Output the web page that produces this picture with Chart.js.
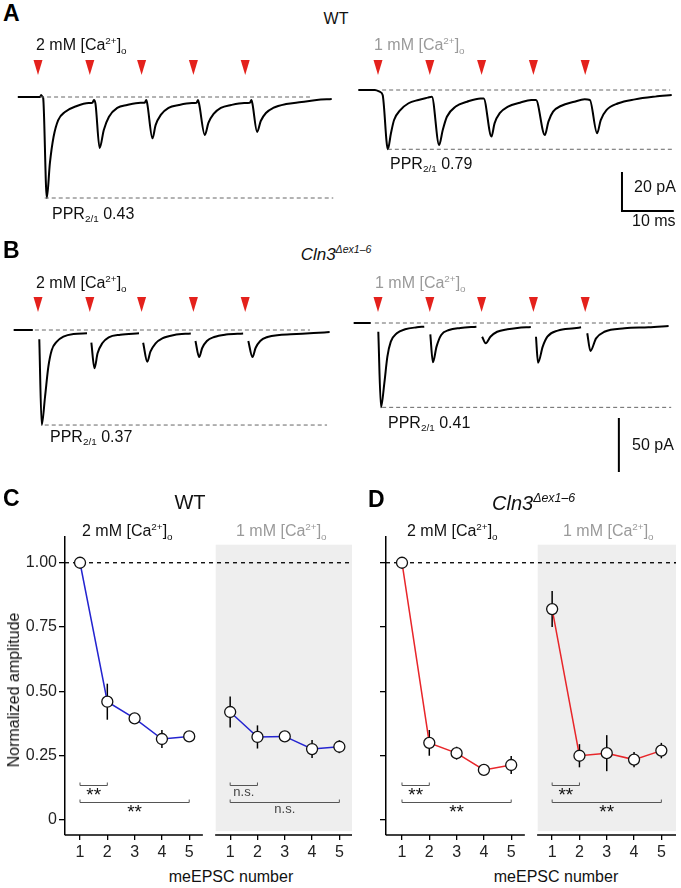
<!DOCTYPE html>
<html>
<head>
<meta charset="utf-8">
<script src="https://cdn.jsdelivr.net/npm/chart.js@4.4.1/dist/chart.umd.min.js"></script>
<style>
  body { margin: 0; background: #fff; font-family: "Liberation Sans", Arial, sans-serif; }
  #fig { position: relative; width: 681px; height: 888px; overflow: hidden; }
  canvas { position: absolute; }
  .t { position: absolute; white-space: nowrap; line-height: 1; color: #111; font-size: 16px; }
  .g { color: #9a9a9a; }
  .L { font-weight: bold; font-size: 23px; color: #000; }
  .sup { font-size: 62%; vertical-align: 0.62em; }
  .sub { font-size: 62%; vertical-align: -0.35em; }
  .it { font-style: italic; }
</style>
</head>
<body>
<div id="fig">
  <canvas id="cA1" width="340" height="165" style="left:0;top:50px"></canvas>
  <canvas id="cA2" width="341" height="165" style="left:340px;top:50px"></canvas>
  <canvas id="cB1" width="340" height="150" style="left:0;top:285px"></canvas>
  <canvas id="cB2" width="341" height="195" style="left:340px;top:285px"></canvas>
  <canvas id="cC" width="352" height="340" style="left:0;top:525px"></canvas>
  <canvas id="cD" width="310" height="340" style="left:366px;top:525px"></canvas>

  <div class="t L" style="left:3px;top:2px">A</div>
  <div class="t" style="left:336px;top:11px;transform:translateX(-50%)">WT</div>
  <div class="t" style="left:36px;top:36px">2 mM [Ca<span class="sup">2+</span>]<span class="sub">o</span></div>
  <div class="t g" style="left:374px;top:36px">1 mM [Ca<span class="sup">2+</span>]<span class="sub">o</span></div>
  <div class="t" style="left:52px;top:206px">PPR<span class="sub">2/1</span> 0.43</div>
  <div class="t" style="left:390px;top:156px">PPR<span class="sub">2/1</span> 0.79</div>
  <div class="t" style="left:634px;top:179px">20 pA</div>
  <div class="t" style="left:632px;top:213px">10 ms</div>

  <div class="t L" style="left:3px;top:239px">B</div>
  <div class="t" style="left:336px;top:244px;transform:translateX(-50%);font-size:17px"><span class="it">Cln3</span><span class="sup it">Δex1–6</span></div>
  <div class="t" style="left:36px;top:274px">2 mM [Ca<span class="sup">2+</span>]<span class="sub">o</span></div>
  <div class="t g" style="left:375px;top:274px">1 mM [Ca<span class="sup">2+</span>]<span class="sub">o</span></div>
  <div class="t" style="left:50px;top:429px">PPR<span class="sub">2/1</span> 0.37</div>
  <div class="t" style="left:388px;top:415px">PPR<span class="sub">2/1</span> 0.41</div>
  <div class="t" style="left:632px;top:437px">50 pA</div>

  <div class="t L" style="left:3px;top:487px">C</div>
  <div class="t" style="left:190px;top:492px;transform:translateX(-50%);font-size:20px">WT</div>
  <div class="t" style="left:82px;top:522px">2 mM [Ca<span class="sup">2+</span>]<span class="sub">o</span></div>
  <div class="t g" style="left:236px;top:522px">1 mM [Ca<span class="sup">2+</span>]<span class="sub">o</span></div>
  <div class="t" style="left:14px;top:690px;transform:translate(-50%,-50%) rotate(-90deg)">Normalized amplitude</div>
  <div class="t" style="left:231px;top:869px;transform:translateX(-50%)">meEPSC number</div>

  <div class="t L" style="left:368px;top:488px">D</div>
  <div class="t" style="left:492px;top:492px;font-size:20px"><span class="it">Cln3</span><span class="sup it">Δex1–6</span></div>
  <div class="t" style="left:407px;top:522px">2 mM [Ca<span class="sup">2+</span>]<span class="sub">o</span></div>
  <div class="t g" style="left:563px;top:522px">1 mM [Ca<span class="sup">2+</span>]<span class="sub">o</span></div>
  <div class="t" style="left:556px;top:869px;transform:translateX(-50%)">meEPSC number</div>
</div>

<script>
// ---- traces: [time (ms), current (pA)], null = blanked artifact
var stimTimes = [0, 10, 20, 30, 40];

var traceWT2 = [[-3.9,0],[-0.6,0],[0.4,0],[0.6,1.0],[0.9,0],[1.0,-0.5],[1.7,-51.8],[2.3,-33.8],[3.0,-20.5],[3.9,-11.8],[5.2,-7.7],[7.5,-4.6],[9.8,-3.1],
  [10.5,-3.0],[10.8,-1.5],[11.1,-3.5],[11.9,-26.2],[12.7,-16.9],[13.7,-10.1],[15.3,-5.6],[17.2,-4.1],[19.8,-2.9],
  [20.6,-2.9],[20.9,-1.5],[21.1,-3.5],[22.1,-21.2],[22.7,-14.4],[23.7,-9.2],[25.2,-5.6],[27.2,-4.1],[29.7,-3.1],
  [30.6,-3.0],[30.9,-1.5],[31.1,-3.5],[32.2,-19.5],[32.9,-13.3],[33.9,-8.7],[35.3,-5.6],[37.3,-4.1],[39.8,-3.1],
  [40.9,-3.0],[41.2,-1.5],[41.4,-3.5],[42.3,-17.9],[43.0,-12.3],[44.0,-8.2],[45.4,-5.6],[47.9,-3.6],[50.9,-2.6],[53.8,-1.5],[56.7,-1.0]];

var traceWT1 = [[-3.8,0],[-0.6,0],[0.4,-1.0],[0.9,-2.6],[1.9,-30.4],[2.5,-22.2],[3.1,-15.4],[4.3,-10.3],[5.9,-6.8],[7.8,-5.1],[9.6,-3.9],
  [10.4,-3.4],[11.8,-28.2],[12.5,-20.5],[13.3,-13.7],[15.0,-8.5],[17.2,-6.0],[19.8,-4.3],
  [20.4,-4.3],[21.9,-23.9],[22.5,-17.1],[23.5,-11.9],[25.1,-8.5],[27.4,-6.5],[29.6,-5.1],
  [30.5,-5.1],[32.2,-23.1],[32.9,-16.2],[33.8,-11.1],[35.3,-8.2],[37.9,-6.0],[39.9,-4.8],
  [40.9,-5.1],[42.3,-22.2],[43.0,-15.4],[44.1,-10.3],[46.4,-6.8],[49.6,-4.8],[53.5,-3.4],[56.7,-2.6]];

var traceKO2 = [[-4.7,0],[-1.0,0],[-0.4,null],[0.25,-8.6],[0.72,-88.0],[1.36,-61.8],[2.0,-34.0],[2.66,-18.5],[3.63,-10.8],[4.9,-6.2],[6.85,-3.7],[9.46,-3.1],[9.9,null],
  [10.3,-11.8],[10.9,-35.5],[11.5,-21.6],[12.4,-12.3],[13.65,-6.8],[15.9,-4.4],[19.5,-3.1],[19.9,null],
  [20.3,-11.8],[21.1,-29.4],[21.7,-20.1],[22.7,-12.3],[24.0,-7.7],[26.3,-4.6],[29.5,-3.2],[30.0,null],
  [30.4,-10.2],[31.1,-25.0],[31.7,-16.7],[32.6,-10.2],[34.0,-6.5],[36.3,-4.2],[39.6,-3.2],[40.1,null],
  [40.6,-10.2],[41.4,-25.0],[42.0,-16.7],[42.9,-10.2],[44.3,-6.5],[46.6,-4.6],[49.9,-3.7],[53.2,-2.8],[56.3,-1.9]];

var traceKO1 = [[-4.7,0],[-1.4,0],[-0.7,null],[0.06,-8.1],[0.58,-78.1],[1.22,-55.8],[1.81,-31.2],[2.47,-17.3],[3.63,-9.5],[5.24,-5.8],[7.51,-4.0],[8.93,-3.4],[9.6,null],
  [10.1,-10.5],[10.6,-36.4],[11.3,-21.9],[12.2,-11.1],[13.7,-6.5],[15.9,-4.6],[19.0,-3.4],[19.6,null],
  [20.1,-12.7],[20.8,-18.8],[21.7,-12.7],[23.0,-8.1],[25.0,-5.8],[26.9,-4.6],[29.5,-3.7],[30.0,null],
  [30.5,-12.7],[30.9,-36.8],[31.8,-21.9],[32.7,-12.7],[34.7,-7.1],[37.9,-4.9],[39.2,-4.0],[39.8,null],
  [40.4,-9.5],[41.0,-25.9],[42.1,-14.2],[43.7,-8.1],[47.6,-4.9],[52.2,-4.0],[56.1,-2.8]];

// ---- normalized amplitudes (panel C / D)
var pulseNo = [1, 2, 3, 4, 5];
var yTicks = [0, 0.25, 0.5, 0.75, 1.0];
var wt2mM = [1.00, 0.46, 0.395, 0.315, 0.325];
var wt2mMerr = [0, 0.07, 0.015, 0.035, 0.012];
var wt1mM = [0.42, 0.323, 0.325, 0.276, 0.285];
var wt1mMerr = [0.06, 0.045, 0.015, 0.035, 0.025];
var ko2mM = [1.00, 0.30, 0.26, 0.195, 0.214];
var ko2mMerr = [0, 0.05, 0.025, 0.01, 0.035];
var ko1mM = [0.82, 0.25, 0.26, 0.235, 0.27];
var ko1mMerr = [0.07, 0.045, 0.07, 0.03, 0.03];
var comparisons = [[1, 2], [1, 5]];
var sigWT2 = ['**', '**'];
var sigWT1 = ['n.s.', 'n.s.'];
var sigKO2 = ['**', '**'];
var sigKO1 = ['**', '**'];

var FONT = '"Liberation Sans", Arial, sans-serif';
var groupGap = 5.5;
var PX_MS = 5.18;

Chart.defaults.font.family = FONT;

var stimPlugin = {
	id: 'stim',
	afterDatasetsDraw: function(chart, args, o) {
		var ctx = chart.ctx, x = chart.scales.x, a = chart.chartArea;
		ctx.save();
		ctx.fillStyle = '#e4211c';
		stimTimes.forEach(function(t) {
			var px = x.getPixelForValue(t);
			ctx.beginPath();
			ctx.moveTo(px - 4.5, a.top + o.top);
			ctx.lineTo(px + 4.5, a.top + o.top);
			ctx.lineTo(px, a.top + o.top + 15);
			ctx.closePath();
			ctx.fill();
		});
		ctx.restore();
	}
};

function traceChart(id, trace, o) {
	var cv = document.getElementById(id);
	var W = cv.width, H = cv.height;
	var pts = trace.map(function(p) { return {x: p[0], y: p[1]}; });
	var peak = Math.min.apply(null, trace.filter(function(p) { return p[1] !== null; }).map(function(p) { return p[1]; }));
	var xmin = -o.x0 / PX_MS, xmax = xmin + W / PX_MS;
	var ymax = o.base / o.pxPA, ymin = ymax - H / o.pxPA;
	var dash = {borderColor: '#666', borderWidth: 1, borderDash: [4, 3], pointRadius: 0, clip: false};
	var datasets = [
		Object.assign({data: [{x: o.top[0], y: 0}, {x: o.top[1], y: 0}]}, dash),
		Object.assign({data: [{x: o.bot[0], y: peak}, {x: o.bot[1], y: peak}]}, dash),
		{data: pts, borderColor: '#000', borderWidth: 2, pointRadius: 0, spanGaps: false, clip: false, cubicInterpolationMode: 'monotone'}
	];
	if (o.bar) {
		var b = o.bar;
		var barPts = [{x: b.t, y: b.i + b.pA}, {x: b.t, y: b.i}];
		if (b.ms) barPts.push({x: b.t + b.ms, y: b.i});
		datasets.push({data: barPts, borderColor: '#000', borderWidth: 2, pointRadius: 0, clip: false});
	}
	return new Chart(cv, {
		type: 'line',
		data: {datasets: datasets},
		options: {
			responsive: false,
			animation: false,
			events: [],
			layout: {padding: 0, autoPadding: false},
			plugins: {legend: {display: false}, tooltip: {enabled: false}, stim: {top: o.mark}},
			scales: {
				x: {type: 'linear', display: false, min: xmin, max: xmax},
				y: {type: 'linear', display: false, min: ymin, max: ymax}
			}
		},
		plugins: [stimPlugin]
	});
}

traceChart('cA1', traceWT2, {x0: 38, base: 47, pxPA: 1.95, mark: 10, top: [0.4, 52.5], bot: [1.3, 57]});
traceChart('cA2', traceWT1, {x0: 38, base: 40, pxPA: 1.95, mark: 10, top: [0.8, 56.4], bot: [1.9, 56.8],
	bar: {t: 47.1, i: -62.1, pA: 20, ms: 10}});
traceChart('cB1', traceKO2, {x0: 38, base: 45, pxPA: 1.08, mark: 12, top: [-0.6, 52.5], bot: [1.3, 55.8]});
traceChart('cB2', traceKO1, {x0: 38, base: 38, pxPA: 1.08, mark: 12, top: [-0.6, 52.9], bot: [0.8, 56.6],
	bar: {t: 46.5, i: -138, pA: 50}});

// ---- summary plots
var panelPlugin = {
	id: 'panel',
	beforeDraw: function(chart, args, o) {
		var ctx = chart.ctx, a = chart.chartArea, x = chart.scales.x, y = chart.scales.y;
		var gx = x.getPixelForValue(o.shadeFrom);
		var gt = y.getPixelForValue(o.shadeTop), gb = y.getPixelForValue(o.shadeBottom);
		ctx.save();
		ctx.fillStyle = '#eeeeee';
		ctx.fillRect(gx, gt, a.right - gx, gb - gt);
		ctx.restore();
	},
	beforeDatasetsDraw: function(chart, args, o) {
		var ctx = chart.ctx, a = chart.chartArea, x = chart.scales.x, y = chart.scales.y;
		ctx.save();
		// x axis pieces
		ctx.strokeStyle = '#000';
		ctx.lineWidth = 1.5;
		o.axes.forEach(function(s) {
			ctx.beginPath();
			ctx.moveTo(x.getPixelForValue(s[0]), a.bottom);
			ctx.lineTo(x.getPixelForValue(s[1]), a.bottom);
			ctx.stroke();
		});
		// reference at 1.0
		ctx.lineWidth = 1.3;
		ctx.setLineDash([4, 4]);
		var y1 = y.getPixelForValue(1);
		ctx.beginPath();
		ctx.moveTo(a.left, y1);
		ctx.lineTo(a.right, y1);
		ctx.stroke();
		ctx.setLineDash([]);
		// error bars
		ctx.lineWidth = 1.5;
		chart.data.datasets.forEach(function(ds) {
			ds.data.forEach(function(p, j) {
				var e = ds.err[j];
				if (!e) return;
				var px = x.getPixelForValue(p.x);
				ctx.beginPath();
				ctx.moveTo(px, y.getPixelForValue(p.y + e));
				ctx.lineTo(px, y.getPixelForValue(p.y - e));
				ctx.stroke();
			});
		});
		ctx.restore();
	},
	afterDatasetsDraw: function(chart, args, o) {
		var ctx = chart.ctx, x = chart.scales.x, y = chart.scales.y;
		ctx.save();
		chart.data.datasets.forEach(function(ds) {
			comparisons.forEach(function(c, k) {
				var x1 = x.getPixelForValue(c[0] + ds.offset), x2 = x.getPixelForValue(c[1] + ds.offset);
				var yy = Math.round(y.getPixelForValue(o.levels[k])) + 0.5;
				ctx.strokeStyle = '#555';
				ctx.lineWidth = 1;
				ctx.beginPath();
				ctx.moveTo(x1, yy - 3);
				ctx.lineTo(x1, yy);
				ctx.lineTo(x2, yy);
				ctx.lineTo(x2, yy - 3);
				ctx.stroke();
				var lab = ds.sig[k];
				ctx.fillStyle = lab === '**' ? '#111' : '#444';
				ctx.font = lab === '**' ? '19px ' + FONT : '13px ' + FONT;
				ctx.textAlign = 'center';
				ctx.textBaseline = 'top';
				ctx.fillText(lab, (x1 + x2) / 2, yy + (lab === '**' ? 1 : 0));
			});
		});
		ctx.restore();
	}
};

function summaryChart(id, color, v2, e2, s2, v1, e1, s1, o) {
	var mk = function(vals, err, sig, off) {
		return {
			data: pulseNo.map(function(n, i) { return {x: n + off, y: vals[i]}; }),
			err: err, sig: sig, offset: off,
			borderColor: color, borderWidth: 1.5,
			pointRadius: 5.5, pointBorderWidth: 1.3, pointBorderColor: '#111', pointBackgroundColor: '#fff',
			clip: false
		};
	};
	var xmax = o.xmin + o.areaW / 27.3;
	return new Chart(document.getElementById(id), {
		type: 'line',
		data: {datasets: [mk(v2, e2, s2, 0), mk(v1, e1, s1, groupGap)]},
		options: {
			responsive: false,
			animation: false,
			events: [],
			layout: {padding: {top: 12, right: 0, left: 0, bottom: 0}, autoPadding: false},
			plugins: {
				legend: {display: false}, tooltip: {enabled: false},
				panel: {shadeFrom: 5.97, shadeTop: 1.07, shadeBottom: -0.043, levels: [0.136, 0.07],
					axes: [[o.xmin, 5.5], [5.95, xmax]]}
			},
			scales: {
				x: {
					type: 'linear', min: o.xmin, max: xmax,
					afterFit: function(s) { s.height = 30; s.paddingLeft = 0; s.paddingRight = 0; },
					afterBuildTicks: function(s) {
						s.ticks = pulseNo.concat(pulseNo.map(function(n) { return n + groupGap; })).map(function(v) { return {value: v}; });
					},
					ticks: {
						callback: function(v) { return v > groupGap ? v - groupGap : v; },
						font: {size: 16}, color: '#222', padding: 3, autoSkip: false, maxRotation: 0
					},
					grid: {drawOnChartArea: false, tickLength: 5, color: '#000', lineWidth: 1.3},
					border: {display: false}
				},
				y: {
					min: -0.058, max: 1.10,
					afterFit: function(s) { s.width = o.yW; s.paddingTop = 0; s.paddingBottom = 0; },
					afterBuildTicks: function(s) { s.ticks = yTicks.map(function(v) { return {value: v}; }); },
					ticks: {
						display: o.yLabels,
						callback: function(v) { return v === 0 ? '0' : v.toFixed(2); },
						font: {size: 16}, color: '#222', padding: 2
					},
					grid: {drawOnChartArea: false, tickLength: 6, color: '#000', lineWidth: 1.3},
					border: {display: true, color: '#000', width: 1.5}
				}
			}
		},
		plugins: [panelPlugin]
	});
}

summaryChart('cC', '#2424d0', wt2mM, wt2mMerr, sigWT2, wt1mM, wt1mMerr, sigWT1,
	{xmin: 0.45, areaW: 287, yW: 65, yLabels: true});
summaryChart('cD', '#e8262a', ko2mM, ko2mMerr, sigKO2, ko1mM, ko1mMerr, sigKO1,
	{xmin: 0.414, areaW: 290, yW: 20, yLabels: false});
</script>
</body>
</html>
